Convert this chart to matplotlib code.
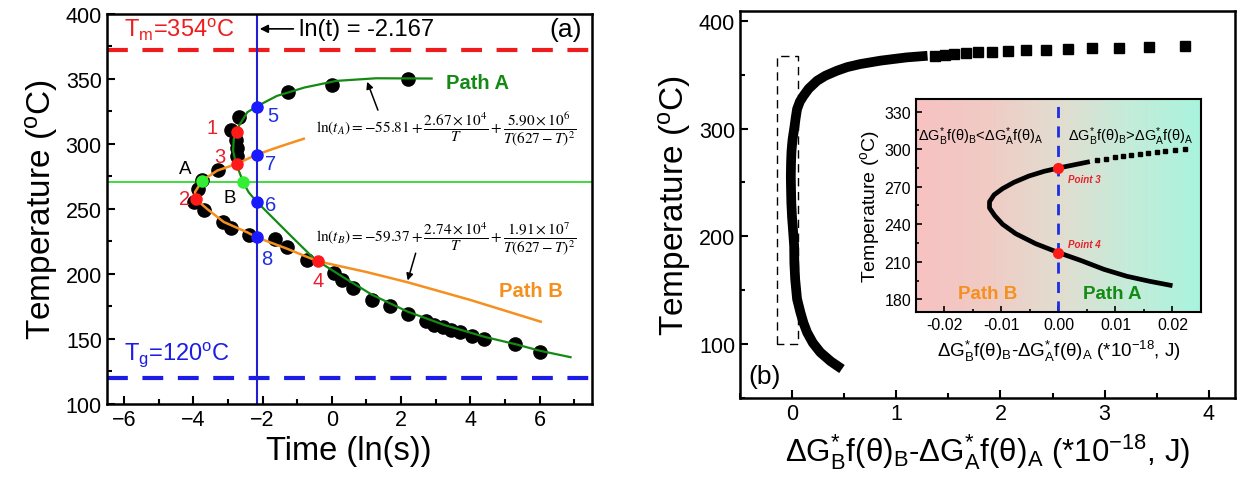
import matplotlib
matplotlib.use("Agg")
import matplotlib.pyplot as plt
import numpy as np
from matplotlib.colors import LinearSegmentedColormap
from matplotlib.ticker import MultipleLocator

plt.rcParams['font.family'] = ['Liberation Sans', 'DejaVu Sans']
plt.rcParams['mathtext.fontset'] = 'custom'
plt.rcParams['mathtext.rm'] = 'Liberation Sans'
plt.rcParams['mathtext.it'] = 'Liberation Sans:italic'
plt.rcParams['mathtext.bf'] = 'Liberation Sans:bold'

# ---------------- Panel (a) data ----------------
black_x = [2.2, 0.0, -1.27, -2.68, -2.9, -2.78, -2.73, -2.75, -3.3, -3.75, -3.85, -3.97,
           -3.7, -3.15, -2.9, -2.4, -1.65, -1.3, -0.72, 0.07, 0.3, 0.6, 1.16, 1.68, 2.19,
           2.71, 2.95, 3.2, 3.45, 3.7, 4.05, 4.4, 5.3, 6.0]
black_T = [350, 345, 340, 321, 311, 303, 297, 291, 280, 272, 265, 255,
           249, 240, 235, 230, 227, 221, 211, 201, 195, 189, 180, 175, 169,
           164, 161, 159, 157, 155, 152, 150, 146, 140]

pathA_x = [2.88, 1.28, 0.13, -0.79, -1.59, -2.05, -2.17, -2.44, -2.68, -2.83, -2.85, -2.78,
           -2.63, -2.56, -2.4, -2.17, -1.67, -1.19, -0.56, -0.4, 0.3, 1.16, 2.19, 3.28,
           4.43, 5.3, 6.0, 6.89]
pathA_T = [350.3, 350.5, 348.5, 343.4, 336.9, 330.5, 328.7, 324.4, 314, 303.8, 295, 286,
           275.6, 270.5, 262.8, 255.6, 242.3, 229.5, 213, 209.8, 198, 184, 171, 160.5,
           151.5, 146, 141, 136]

pathB_x = [-0.81, -1.5, -2.17, -2.75, -3.31, -3.74, -3.95, -3.93, -3.6, -3.12, -2.44, -2.17,
           -1.3, -0.41, 1.0, 2.19, 4.0, 6.03]
pathB_T = [304, 298, 291.8, 284.6, 279.5, 271.8, 263, 257.7, 250, 240, 232, 228.2,
           219.5, 209.8, 201.5, 193.6, 180, 163.3]

red_x = [-2.75, -3.93, -2.75, -0.41]
red_T = [309.5, 257.7, 284.6, 209.8]
red_labels = ['1', '2', '3', '4']

blue_x = [-2.167, -2.167, -2.167, -2.167]
blue_T = [328.7, 255.6, 291.8, 228.2]
blue_labels = ['5', '6', '7', '8']

lime_x = [-3.74, -2.56]
lime_T = [271.5, 271.0]
lime_labels = ['A', 'B']

T_melt_line = 372
T_glass_line = 120
T_cross_line = 271
ln_t_cut = -2.167

# ---------------- Panel (b) data ----------------
curve_T = [76.8, 84, 92.3, 101, 110.8, 119.5, 129.4, 141.8, 160, 175, 191, 210, 217.4, 231,
           243, 255, 268, 278.5, 285, 290, 300.8, 310, 318, 325, 330.4, 337, 344.3, 349,
           353.6, 357, 359.8, 363, 366, 367.5]
curve_x = [0.479, 0.37, 0.271, 0.2, 0.144, 0.11, 0.08, 0.048, 0.03, 0.022, 0.02, 0.006, 0.0,
           -0.007, -0.0098, -0.012, -0.0098, -0.0057, 0.0, 0.005, 0.022, 0.035, 0.048, 0.075,
           0.11, 0.16, 0.24, 0.32, 0.43, 0.53, 0.654, 0.85, 1.1, 1.3]
sq_x = [1.368, 1.463, 1.558, 1.672, 1.787, 1.920, 2.073, 2.244, 2.435, 2.645, 2.874, 3.141,
        3.426, 3.769]
sq_T = [367.5, 368.1, 369.0, 370.0, 370.6, 371.2, 371.8, 372.4, 373.0, 373.6, 374.3, 374.9,
        375.8, 376.8]

inset_x = [0.02, 0.016, 0.012, 0.008, 0.004, 0.0, -0.004, -0.0075, -0.0098, -0.0112,
           -0.0121, -0.0121, -0.0113, -0.0098, -0.0078, -0.0052, -0.0025, 0.0, 0.003, 0.0055]
inset_T = [191, 194.5, 198.5, 204, 211, 217.4, 224.5, 232.5, 240, 247,
           253, 258, 263.5, 268.5, 273.5, 278.5, 282.3, 284.9, 287.7, 290]
inset_sq_x = [0.0068, 0.0084, 0.00986, 0.0113, 0.0128, 0.0143, 0.0157, 0.0172,
              0.0187, 0.0204, 0.0222]
inset_sq_T = [291.3, 292.5, 293.6, 294.7, 295.5, 296.3, 297.1, 297.9, 298.7, 299.5, 300.3]
point_x = [0.0, 0.0]
point_T = [284.9, 217.4]
point_labels = ['Point 3', 'Point 4']

fig = plt.figure(figsize=(12.43, 4.81), dpi=100)

# ================= Panel (a) =================
ax = fig.add_axes([0.0858, 0.158, 0.3902, 0.811])
ax.set_xlim(-6.5, 7.5)
ax.set_ylim(100, 400)
ax.xaxis.set_major_locator(MultipleLocator(2))
ax.xaxis.set_minor_locator(MultipleLocator(1))
ax.yaxis.set_major_locator(MultipleLocator(50))
ax.yaxis.set_minor_locator(MultipleLocator(25))
ax.tick_params(which='both', direction='in', top=False, right=False, labelsize=15.5, width=1.5)
ax.tick_params(which='major', length=6)
ax.tick_params(which='minor', length=3.5)
for s in ax.spines.values():
    s.set_linewidth(1.8)

ax.axhline(T_melt_line, color='#ee1c1c', lw=3, dashes=(5, 3.5), zorder=2)
ax.axhline(T_glass_line, color='#1c1ce6', lw=3, dashes=(5, 3.5), zorder=2)
ax.axhline(T_cross_line, color='#3fdc3f', lw=1.4, zorder=2)
ax.axvline(ln_t_cut, color='#2020d0', lw=1.5, zorder=2)

ax.plot(black_x, black_T, 'o', color='black', ms=9.5, zorder=3)
ax.plot(pathA_x, pathA_T, color='#138a13', lw=1.6, zorder=4)
ax.plot(pathB_x, pathB_T, color='#f5901e', lw=1.8, zorder=4)
ax.plot(red_x, red_T, 'o', color='#ff1a1a', ms=8, zorder=5)
ax.plot(blue_x, blue_T, 'o', color='#1a1aff', ms=8, zorder=5)
ax.plot(lime_x, lime_T, 'o', color='#33ee33', ms=8, zorder=5)

red_off = [(-0.7, 3.3), (-0.33, 0), (-0.48, 6), (0, -15)]
for (x, t, l, (dx, dy)) in zip(red_x, red_T, red_labels, red_off):
    ax.text(x + dx, t + dy, l, color='#e8202a', fontsize=14.5, ha='center', va='center')
blue_off = [(0.45, -7), (0.4, -2), (0.4, -7), (0.3, -16.5)]
for (x, t, l, (dx, dy)) in zip(blue_x, blue_T, blue_labels, blue_off):
    ax.text(x + dx, t + dy, l, color='#2030e0', fontsize=14.5, ha='center', va='center')
lime_off = [(-0.48, 9.3), (-0.38, -12)]
for (x, t, l, (dx, dy)) in zip(lime_x, lime_T, lime_labels, lime_off):
    ax.text(x + dx, t + dy, l, color='black', fontsize=13.5, ha='center', va='center')

ax.text(-6.0, 388.5, r'T$_{\rm m}$=354$^{\rm o}$C', color='#ee1c1c', fontsize=17, va='center')
ax.text(-6.0, 138.5, r'T$_{\rm g}$=120$^{\rm o}$C', color='#1c1ce6', fontsize=17, va='center')
ax.annotate('ln(t) = -2.167', xy=(-2.08, 388.5), xytext=(-0.95, 388.5), fontsize=17,
            va='center', ha='left',
            arrowprops=dict(arrowstyle='-|>', color='black', lw=1.2, mutation_scale=12,
                            shrinkA=2, shrinkB=0))
ax.text(6.75, 388.5, '(a)', fontsize=19, ha='center', va='center')
ax.text(4.2, 347.5, 'Path A', color='#138a13', fontsize=14.5, fontweight='bold', ha='center', va='center')
ax.text(5.75, 187.5, 'Path B', color='#f5901e', fontsize=14.5, fontweight='bold', ha='center', va='center')

eqA = r'$\ln(t_A)=-55.81+\dfrac{2.67\times10^4}{T}+\dfrac{5.90\times10^6}{T(627-T)^2}$'
eqB = r'$\ln(t_B)=-59.37+\dfrac{2.74\times10^4}{T}+\dfrac{1.91\times10^7}{T(627-T)^2}$'
ax.text(-0.45, 311.5, eqA, fontsize=11, math_fontfamily='stix', ha='left', va='center')
ax.text(-0.45, 227.5, eqB, fontsize=11, math_fontfamily='stix', ha='left', va='center')
ax.annotate('', xy=(1.02, 347.8), xytext=(1.33, 326),
            arrowprops=dict(arrowstyle='-|>', color='black', lw=1.1, mutation_scale=10, shrinkA=0, shrinkB=0))
ax.annotate('', xy=(2.19, 195), xytext=(2.42, 216),
            arrowprops=dict(arrowstyle='-|>', color='black', lw=1.1, mutation_scale=10, shrinkA=0, shrinkB=0))

ax.set_xlabel('Time (ln(s))', fontsize=23.5, labelpad=4)
ax.set_ylabel(r'Temperature ($^{\rm o}$C)', fontsize=24, labelpad=4)

# ================= Panel (b) =================
bx = fig.add_axes([0.5953, 0.1698, 0.3982, 0.8058])
bx.set_xlim(-0.5, 4.25)
bx.set_ylim(49.6, 409.3)
bx.xaxis.set_major_locator(MultipleLocator(1))
bx.xaxis.set_minor_locator(MultipleLocator(0.5))
bx.yaxis.set_major_locator(MultipleLocator(100))
bx.yaxis.set_minor_locator(MultipleLocator(50))
bx.tick_params(which='both', direction='in', top=False, right=False, labelsize=15.5, width=1.5)
bx.tick_params(which='major', length=6)
bx.tick_params(which='minor', length=3.5)
for s in bx.spines.values():
    s.set_linewidth(1.8)

bx.plot(curve_x, curve_T, color='black', lw=7, solid_capstyle='butt', solid_joinstyle='round', zorder=3)
bx.plot(sq_x, sq_T, 's', color='black', ms=6.5, zorder=3)
bx.plot([-0.144, -0.144, 0.054, 0.054, -0.144], [100, 367.5, 367.5, 100, 100],
        color='black', lw=1.0, dashes=(6, 4), zorder=2)
bx.text(-0.26, 70.6, '(b)', fontsize=19, ha='center', va='center')
bx.set_xlabel(r'ΔG$^{*}_{\rm B}$f(θ)$_{\rm B}$-ΔG$^{*}_{\rm A}$f(θ)$_{\rm A}$ (*10$^{-18}$, J)',
              fontsize=22.5, labelpad=5)
bx.set_ylabel(r'Temperature ($^{\rm o}$C)', fontsize=24, labelpad=4)

# ================= Inset =================
ix = fig.add_axes([0.7369, 0.3493, 0.2293, 0.4428])
ix.set_xlim(-0.025, 0.025)
ix.set_ylim(170, 340)
cmap = LinearSegmentedColormap.from_list('bg', [(0.0, '#f7c2c2'), (0.25, '#f0cbc4'),
                                               (0.5, '#e2ddd0'), (0.75, '#c4ecda'),
                                               (1.0, '#a8f4de')])
ix.imshow(np.linspace(0, 1, 256)[None, :], aspect='auto', cmap=cmap,
          extent=(-0.025, 0.025, 170, 340), zorder=0)
ix.xaxis.set_major_locator(MultipleLocator(0.01))
ix.xaxis.set_minor_locator(MultipleLocator(0.005))
ix.yaxis.set_major_locator(MultipleLocator(30))
ix.yaxis.set_minor_locator(MultipleLocator(15))
ix.tick_params(which='both', direction='in', top=False, right=False, labelsize=11.5, width=1.2)
ix.tick_params(which='major', length=4)
ix.tick_params(which='minor', length=2.5)
ix.set_xticks([-0.02, -0.01, 0.0, 0.01, 0.02])
ix.set_xticklabels(['-0.02', '-0.01', '0.00', '0.01', '0.02'])
for s in ix.spines.values():
    s.set_linewidth(1.5)
ix.axvline(0, color='#1c2ee0', lw=2, dashes=(4, 3), zorder=2)
ix.plot(inset_x, inset_T, color='black', lw=3.4, solid_capstyle='butt', zorder=3)
ix.plot(inset_sq_x, inset_sq_T, 's', color='black', ms=3.4, zorder=3)
ix.plot(point_x, point_T, 'o', color='#ff1a1a', ms=7, zorder=4)
for x, t, l in zip(point_x, point_T, point_labels):
    ix.text(x + 0.0016, t - 8.5 if l == 'Point 3' else t + 6.5, l, color='#e8202a', fontsize=7,
            style='italic', fontweight='bold', ha='left', va='center')
ix.text(-0.0246, 311, r'ΔG$^{*}_{\rm B}$f(θ)$_{\rm B}$<ΔG$^{*}_{\rm A}$f(θ)$_{\rm A}$', fontsize=10.5,
        ha='left', va='center', zorder=5)
ix.text(0.0017, 311, r'ΔG$^{*}_{\rm B}$f(θ)$_{\rm B}$>ΔG$^{*}_{\rm A}$f(θ)$_{\rm A}$', fontsize=10.5,
        ha='left', va='center', zorder=5)
ix.text(-0.0124, 184.5, 'Path B', color='#f5901e', fontsize=13.5, fontweight='bold', ha='center', va='center')
ix.text(0.0094, 184.5, 'Path A', color='#138a13', fontsize=13.5, fontweight='bold', ha='center', va='center')
ix.set_xlabel(r'ΔG$^{*}_{\rm B}$f(θ)$_{\rm B}$-ΔG$^{*}_{\rm A}$f(θ)$_{\rm A}$ (*10$^{-18}$, J)',
              fontsize=13.5, labelpad=4)
ix.set_ylabel(r'Temperature ($^{\rm o}$C)', fontsize=14, labelpad=2)

fig.savefig('out.png', dpi=100)
